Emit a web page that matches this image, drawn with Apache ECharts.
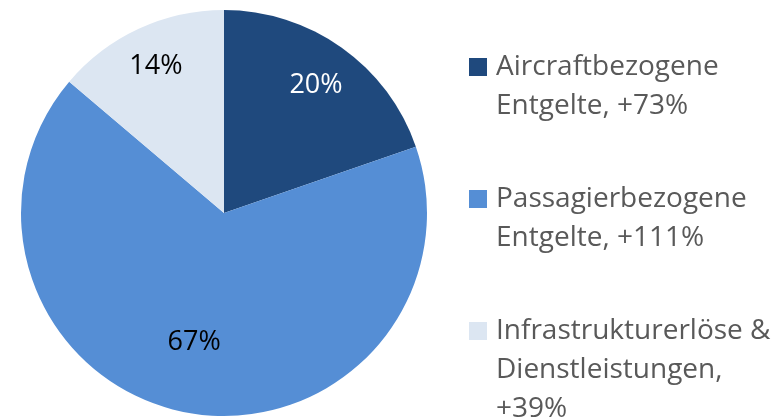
<!DOCTYPE html>
<html>
<head>
<meta charset="utf-8">
<script src="https://cdn.jsdelivr.net/npm/echarts@6/dist/echarts.min.js"></script>
<style>
  html, body { margin: 0; padding: 0; background: #fff; }
  #chart { width: 780px; height: 420px; }
</style>
</head>
<body>
<div id="chart"></div>
<script>
  const categories = [
    'Aircraftbezogene\nEntgelte, +73%',
    'Passagierbezogene\nEntgelte, +111%',
    'Infrastrukturerlöse &\nDienstleistungen,\n+39%'
  ];
  const shares = [19.7, 66.5, 13.8];

  const sliceColors = ['#1f497d', '#558ed5', '#dce6f2'];
  const labelColors = ['#ffffff', '#000000', '#000000'];
  const labelOffsets = [[-2, 4], [0, -30], [0, 0]];
  const legendCenters = [67, 199, 331];
  const lineHeight = 39;

  const font = '"Open Sans", "Liberation Sans", sans-serif';

  const instance = echarts.init(document.getElementById('chart'));

  // the legend text is centred on its icon, so empty lines are put in
  // front to keep the icon level with the first line
  function legendText(name) {
    const lines = name.split('\n');
    const pad = new Array(lines.length).join('\n');
    return pad + lines.map(function (l) { return '{t|' + l + '}'; }).join('\n');
  }

  const legends = categories.map(function (name, i) {
    const lines = name.split('\n').length;
    return {
      orient: 'vertical',
      left: 469,
      top: legendCenters[i] - (2 * lines - 1) * lineHeight / 2,
      padding: 0,
      itemWidth: 18,
      itemHeight: 18,
      itemGap: 0,
      icon: 'rect',
      selectedMode: false,
      data: [name],
      formatter: legendText,
      textStyle: {
        color: '#595959',
        fontSize: 28,
        fontFamily: font,
        lineHeight: lineHeight,
        rich: {
          t: {
            color: '#595959',
            fontSize: 28,
            fontFamily: font,
            lineHeight: lineHeight,
            padding: [0, 0, 0, 4]
          }
        }
      }
    };
  });

  const option = {
    animation: false,
    legend: legends,
    series: [
      {
        type: 'pie',
        center: [224, 213],
        radius: 203,
        startAngle: 90,
        clockwise: true,
        label: { show: false },
        labelLine: { show: false },
        emphasis: { disabled: true },
        itemStyle: { borderWidth: 0 },
        data: categories.map(function (name, i) {
          return { name: name, value: shares[i], itemStyle: { color: sliceColors[i] } };
        })
      },
      {
        // label ring, same data, only carries the percentages
        type: 'pie',
        center: [224, 213],
        radius: [115, 203],
        startAngle: 90,
        clockwise: true,
        silent: true,
        legendHoverLink: false,
        itemStyle: { color: 'transparent', borderWidth: 0 },
        labelLine: { show: false },
        label: {
          show: true,
          position: 'inside',
          fontSize: 27,
          fontFamily: font,
          formatter: function (p) {
            return Math.round(p.percent) + '%';
          }
        },
        data: categories.map(function (name, i) {
          return {
            name: name,
            value: shares[i],
            label: { color: labelColors[i], offset: labelOffsets[i] }
          };
        })
      }
    ]
  };

  instance.setOption(option);

  window.addEventListener('resize', function () {
    instance.resize();
  });
</script>
</body>
</html>
